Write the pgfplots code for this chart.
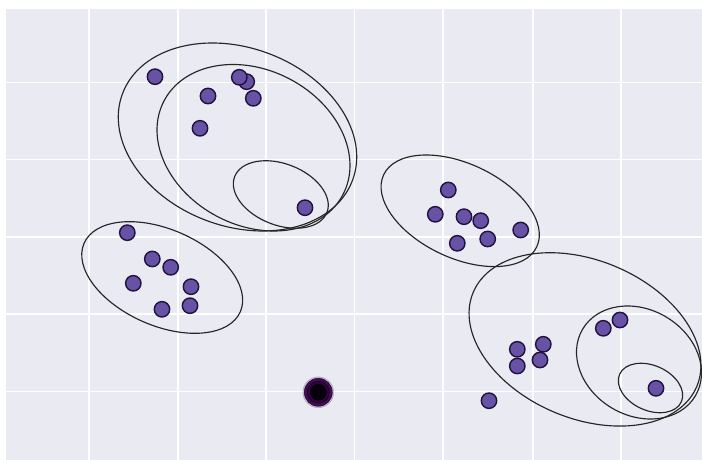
\documentclass[border=0pt]{standalone}
\usepackage{pgfplots}
\pgfplotsset{compat=1.18}

\definecolor{bgcol}{HTML}{EAEAF2}
\definecolor{ptfill}{RGB}{104,82,166}
\definecolor{ptedge}{RGB}{32,18,58}
\definecolor{halo}{RGB}{72,8,92}
\definecolor{core}{RGB}{8,0,12}

% cluster members
\pgfplotstableread{
x y
155.0 383.3
246.7 378.3
239.3 382.7
208.0 364.0
253.3 361.7
200.0 331.7
305.0 252.3
127.3 227.3
152.3 201.0
170.7 192.7
133.3 176.7
190.0 154.3
191.0 173.3
162.0 150.7
448.3 270.0
435.3 245.7
464.0 243.3
480.7 239.3
520.7 230.0
457.3 216.7
487.7 221.0
517.3  94.0
517.3 110.7
540.0 100.0
543.3 115.7
603.3 131.7
620.0 140.0
656.0  71.7
489.0  59.3
}\pointsdata

% highlighted sample
\pgfplotstableread{
x y
318.3 67.7
}\highlightdata

\begin{document}
\begin{tikzpicture}
\begin{axis}[
  name=main,
  at={(0pt,0pt)}, anchor=south west,
  scale only axis,
  width=696.5pt, height=451pt,
  xmin=5.5, xmax=702, ymin=0, ymax=451,
  axis background/.style={fill=bgcol},
  axis line style={draw=none},
  xtick={88.6,177.7,266.3,354.5,443.2,532.7,621.3},
  ytick={68.5,146,223,300.5,377.5},
  xticklabels={}, yticklabels={},
  major tick length=0pt,
  grid=major,
  major grid style={white, line width=1.9pt},
  clip=true,
]
% covariance ellipses
\begin{scope}[black!85, line width=1.15pt]
\draw[rotate around={-20.7:(axis cs:237.5,323)}]   (axis cs:237.5,323)   ellipse [x radius=122.9pt, y radius=89.1pt];
\draw[rotate around={-27.6:(axis cs:253.5,312.25)}] (axis cs:253.5,312.25) ellipse [x radius=101.0pt, y radius=77.7pt];
\draw[rotate around={-21.2:(axis cs:280.8,265.5)}] (axis cs:280.8,265.5) ellipse [x radius=49.5pt, y radius=30.7pt];
\draw[rotate around={-23.7:(axis cs:162.2,182.5)}] (axis cs:162.2,182.5) ellipse [x radius=85.3pt, y radius=48.1pt];
\draw[rotate around={-25.2:(axis cs:460.2,249.2)}] (axis cs:460.2,249.2) ellipse [x radius=84.6pt, y radius=47.1pt];
\draw[rotate around={-22.8:(axis cs:585,120.6)}]   (axis cs:585,120.6)   ellipse [x radius=121.3pt, y radius=79.0pt];
\draw[rotate around={-30.6:(axis cs:639,97.5)}]    (axis cs:639,97.5)    ellipse [x radius=65.5pt, y radius=53.0pt];
\draw[rotate around={-24:(axis cs:650.5,72)}]      (axis cs:650.5,72)    ellipse [x radius=33.8pt, y radius=22.5pt];
\end{scope}

\addplot[only marks, mark=*, mark size=7.7pt,
  mark options={fill=ptfill, draw=ptedge, line width=1.4pt}] table[x=x, y=y] {\pointsdata};

% highlighted sample: dark core with a purple rim
\addplot[only marks, mark=*, mark size=15.5pt,
  mark options={fill=halo, draw=none, opacity=0.2}] table[x=x, y=y] {\highlightdata};
\addplot[only marks, mark=*, mark size=14pt,
  mark options={fill=halo, draw=none}] table[x=x, y=y] {\highlightdata};
\addplot[only marks, mark=*, mark size=11pt,
  mark options={fill=halo!60!core, draw=none}] table[x=x, y=y] {\highlightdata};
\addplot[only marks, mark=*, mark size=8pt,
  mark options={fill=core, draw=none}] table[x=x, y=y] {\highlightdata};
\end{axis}
\pgfresetboundingbox
\path ([xshift=-5.5pt]main.south west) rectangle ([yshift=9pt]main.north east);
\end{tikzpicture}
\end{document}
